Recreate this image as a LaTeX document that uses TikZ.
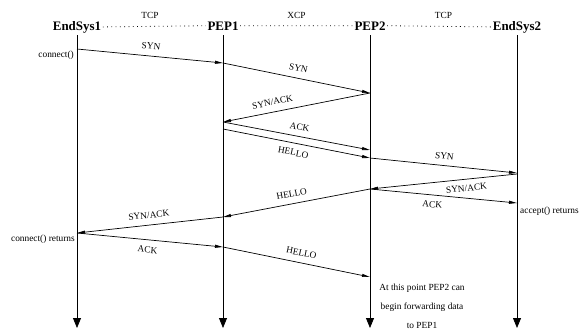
\documentclass[tikz,border=0pt]{standalone}
\usepackage{fontspec}
\setmainfont{Liberation Serif}
\usetikzlibrary{arrows.meta}
\begin{document}
\begin{tikzpicture}[x=1bp,y=-1bp,
  hdr/.style={font=\fontsize{13}{15}\selectfont\bfseries, inner sep=1.5pt, anchor=base},
  lbl/.style={font=\fontsize{9.4}{11}\selectfont, inner sep=1pt},
  slbl/.style={lbl, sloped},
  msg/.style={line width=0.7pt, -{Triangle[length=8pt,width=3pt]}},
  life/.style={line width=0.8pt, -{Triangle[length=10pt,width=8pt]}},
  dots/.style={line width=0.8pt, dash pattern=on 0.8pt off 3.5pt}]
\useasboundingbox (0,0) rectangle (580,330);
% headers
\node[hdr] (es1) at (77,30) {EndSys1};
\node[hdr] (p1) at (223,30) {PEP1};
\node[hdr] (p2) at (370,30) {PEP2};
\node[hdr] (es2) at (517,30) {EndSys2};
\draw[dots] (es1.east) -- (p1.west);
\draw[dots] (p1.east) -- (p2.west);
\draw[dots] (p2.east) -- (es2.west);
\node[lbl] (t1) at (150,15) {TCP};
\node[lbl] (t2) at (296.5,15) {XCP};
\node[lbl] (t3) at (443.5,15) {TCP};
% lifelines
\coordinate (es1top) at (77,35);  \coordinate (es1bot) at (77,328);
\coordinate (p1top) at (223,35);  \coordinate (p1bot) at (223,328);
\coordinate (p2top) at (370,35);  \coordinate (p2bot) at (370,328);
\coordinate (es2top) at (517,35); \coordinate (es2bot) at (517,328);
\draw[life] (es1top) -- (es1bot);
\draw[life] (p1top) -- (p1bot);
\draw[life] (p2top) -- (p2bot);
\draw[life] (es2top) -- (es2bot);
% message points
\coordinate (A1) at (77,49);
\coordinate (A2) at (77,233);
\coordinate (B1) at (223,63);
\coordinate (B2) at (223,122);
\coordinate (B3) at (223,129);
\coordinate (B4) at (223,217);
\coordinate (B5) at (223,247);
\coordinate (C1) at (370,93);
\coordinate (C2) at (370,150);
\coordinate (C3) at (370,158);
\coordinate (C4) at (370,189);
\coordinate (C5) at (370,277);
\coordinate (D1) at (517,173);
\coordinate (D2) at (517,174);
\coordinate (D3) at (517,203);
% messages
\draw[msg] (A1) -- node[slbl, above=5.5pt, pos=0.5] (l1) {SYN} (B1);
\draw[msg] (B1) -- node[slbl, above=5.5pt, pos=0.5] (l2) {SYN} (C1);
\draw[msg] (C1) -- node[slbl, above=5.5pt, pos=0.65] (l3) {SYN/ACK} (B2);
\draw[msg] (B2) -- node[slbl, above=5pt, pos=0.51] (l4) {ACK} (C2);
\draw[msg] (B3) -- node[slbl, below=5pt, pos=0.49] (l5) {HELLO} (C3);
\draw[msg] (C3) -- node[slbl, above=5pt, pos=0.5] (l6) {SYN} (D1);
\draw[msg] (D2) -- node[slbl, below=4.5pt, pos=0.35] (l7) {SYN/ACK} (C4);
\draw[msg] (C4) -- node[slbl, below=5pt, pos=0.43] (l8) {ACK} (D3);
\draw[msg] (C4) -- node[slbl, above=5.5pt, pos=0.52] (l9) {HELLO} (B4);
\draw[msg] (B4) -- node[slbl, above=5.5pt, pos=0.5] (l10) {SYN/ACK} (A2);
\draw[msg] (A2) -- node[slbl, below=5.5pt, pos=0.49] (l11) {ACK} (B5);
\draw[msg] (B5) -- node[slbl, above=5.5pt, pos=0.52] (l12) {HELLO} (C5);
% side notes
\node[lbl, anchor=east] (cn) at (75,55) {connect()};
\node[lbl, anchor=east] (cr) at (76,239) {connect() returns};
\node[lbl, anchor=west] (ar) at (519,211) {accept() returns};
\node[lbl, align=center, font=\fontsize{9.4}{19}\selectfont] (note) at (422,306)
  {At this point PEP2 can\\begin forwarding data\\to PEP1};
\end{tikzpicture}
\end{document}
